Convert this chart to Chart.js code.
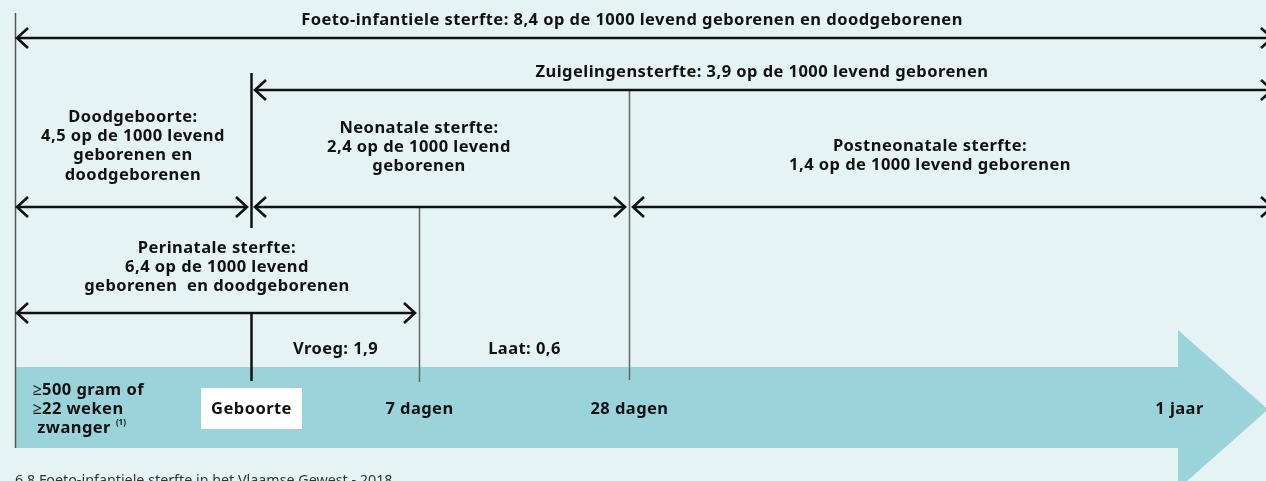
<!DOCTYPE html>
<html><head><meta charset="utf-8">
<script src="https://cdn.jsdelivr.net/npm/chart.js@4.4.1/dist/chart.umd.min.js"></script>
<style>
html,body{margin:0;padding:0;background:#e5f3f5;overflow:hidden}
#wrap{width:1266px;height:481px;position:relative}
canvas{display:block}
</style>
</head><body><div id="wrap"><canvas id="c" width="1266" height="481"></canvas></div>
<script>
// ---------- DATA ----------
const milestones = ['≥22 weken zwanger', 'Geboorte', '7 dagen', '28 dagen', '1 jaar'];
const milestonePos = [0, 10, 17.1, 26, 49.3];           // schematic timeline position
const periods = ['Foeto-infantiele sterfte', 'Zuigelingensterfte', 'Doodgeboorte',
                 'Neonatale sterfte', 'Postneonatale sterfte', 'Perinatale sterfte'];
const rates = [8.4, 3.9, 4.5, 2.4, 1.4, 6.4];             // per 1000
const periodStart = [0, 1, 0, 1, 3, 0];                   // milestone index
const periodEnd = [null, null, 1, 3, null, 2];            // null = open to 1 jaar and beyond
const subPeriods = ['Vroeg', 'Laat'];
const subRates = [1.9, 0.6];
const subStart = [1, 2];
const subEnd = [2, 3];
const caption = '6.8 Foeto-infantiele sterfte in het Vlaamse Gewest - 2018';

const fmt = v => v.toFixed(1).replace('.', ',');
const periodText = [
  r => [`Foeto-infantiele sterfte: ${r} op de 1000 levend geborenen en doodgeborenen`],
  r => [`Zuigelingensterfte: ${r} op de 1000 levend geborenen`],
  r => ['Doodgeboorte:', `${r} op de 1000 levend`, 'geborenen en', 'doodgeborenen'],
  r => ['Neonatale sterfte:', `${r} op de 1000 levend`, 'geborenen'],
  r => ['Postneonatale sterfte:', `${r} op de 1000 levend geborenen`],
  r => ['Perinatale sterfte:', `${r} op de 1000 levend`, 'geborenen  en doodgeborenen']
];

// ---------- LAYOUT (pixels) ----------
const L = {
  rowY: [38, 90, 207, 207, 207, 313],
  textX: [632, 762, 133, 419, 930, 217],
  textY: [20, 72, 117, 128, 146, 248],
  lineH: 19.3,
  bandTop: 367, bandBot: 448, headX: 1178, headTop: 330, headTip: 1268,
  font: 'bold 16.5px "Noto Sans"',
  spacing: '0.45px',
  ink: '#111111'
};

const diagram = {
  id: 'diagram',
  beforeDatasetsDraw(chart) {
    const ctx = chart.ctx, xs = chart.scales.x;
    const px = i => Math.round(xs.getPixelForValue(milestonePos[i])) + 0.5;
    const right = chart.width + 6;
    ctx.save();
    // band arrow
    const mid = (L.bandTop + L.bandBot) / 2;
    ctx.fillStyle = '#9bd3db';
    ctx.beginPath();
    ctx.moveTo(px(0) - 0.5, L.bandTop);
    ctx.lineTo(L.headX, L.bandTop);
    ctx.lineTo(L.headX, L.headTop);
    ctx.lineTo(L.headTip, mid + 2);
    ctx.lineTo(L.headX, 2 * (mid + 2) - L.headTop);
    ctx.lineTo(L.headX, L.bandBot);
    ctx.lineTo(px(0) - 0.5, L.bandBot);
    ctx.closePath();
    ctx.fill();

    // vertical lines
    const vline = (x, y0, y1, w, c) => {
      ctx.strokeStyle = c; ctx.lineWidth = w;
      ctx.beginPath(); ctx.moveTo(x, y0); ctx.lineTo(x, y1); ctx.stroke();
    };
    vline(px(0), 13, L.bandBot, 1.5, '#555');
    vline(px(1), 73, 228, 2.5, L.ink);
    vline(px(1), L.rowY[5], 381, 2.5, L.ink);
    vline(px(2), L.rowY[3], 382, 1.5, '#666');
    vline(px(3), L.rowY[1], 380, 1.5, '#666');

    // arrows
    ctx.strokeStyle = L.ink; ctx.lineWidth = 2.6; ctx.lineJoin = 'miter'; ctx.lineCap = 'butt';
    const head = (tip, y, dir) => {
      ctx.beginPath();
      ctx.moveTo(tip + dir * 11, y - 10);
      ctx.lineTo(tip, y);
      ctx.lineTo(tip + dir * 11, y + 10);
      ctx.stroke();
    };
    periods.forEach((p, i) => {
      const y = L.rowY[i];
      const s = periodStart[i];
      const x0 = px(s) + (s === 0 ? 1.5 : 3.5);
      const x1 = periodEnd[i] === null ? right : px(periodEnd[i]) - 4.5;
      ctx.beginPath(); ctx.moveTo(x0, y); ctx.lineTo(x1, y); ctx.stroke();
      head(x0, y, 1); head(x1, y, -1);
    });

    // period texts
    ctx.fillStyle = L.ink; ctx.font = L.font; ctx.textAlign = 'center'; ctx.textBaseline = 'middle';
    ctx.letterSpacing = L.spacing;
    periods.forEach((p, i) => {
      periodText[i](fmt(rates[i])).forEach((t, k) => ctx.fillText(t, L.textX[i], L.textY[i] + k * L.lineH));
    });
    // sub periods
    subPeriods.forEach((s, i) => {
      const cx = (px(subStart[i]) + px(subEnd[i])) / 2;
      ctx.fillText(`${s}: ${fmt(subRates[i])}`, cx, 349);
    });

    // milestone labels
    const labY = 409;
    ctx.textAlign = 'left';
    const lx = px(0) + 17;
    ctx.fillText('≥500 gram of', lx, 390);
    ctx.fillText('≥22 weken', lx, 409);
    ctx.fillText(' zwanger', lx, 428);
    const zw = ctx.measureText(' zwanger').width;
    ctx.font = 'bold 8px "Noto Sans"';
    ctx.letterSpacing = '0px';
    ctx.fillText('(1)', lx + zw + 5, 423);
    ctx.font = L.font;
    ctx.letterSpacing = L.spacing;
    // Geboorte box
    ctx.fillStyle = '#ffffff';
    ctx.fillRect(px(1) - 50.5, 388, 101, 41);
    ctx.fillStyle = L.ink; ctx.textAlign = 'center';
    ctx.fillText(milestones[1], px(1), labY);
    ctx.fillText(milestones[2], px(2), labY);
    ctx.fillText(milestones[3], px(3), labY);
    ctx.fillText(milestones[4], px(4), labY);

    // caption
    ctx.letterSpacing = '0px';
    ctx.fillStyle = '#333'; ctx.font = '14.3px "Noto Sans"'; ctx.textAlign = 'left'; ctx.textBaseline = 'alphabetic';
    ctx.fillText(caption, px(0) - 0.5, 485);
    ctx.restore();
  }
};

new Chart(document.getElementById('c'), {
  type: 'line',
  data: { datasets: [{ data: [], borderWidth: 0, pointRadius: 0 }] },
  options: {
    responsive: false, animation: false, devicePixelRatio: 1,
    layout: { padding: 0 },
    plugins: { legend: { display: false }, tooltip: { enabled: false } },
    scales: {
      x: { type: 'linear', min: -0.64, max: 53, display: false },
      y: { type: 'linear', min: 0, max: 1, display: false }
    }
  },
  plugins: [diagram]
});
</script>
</body></html>
